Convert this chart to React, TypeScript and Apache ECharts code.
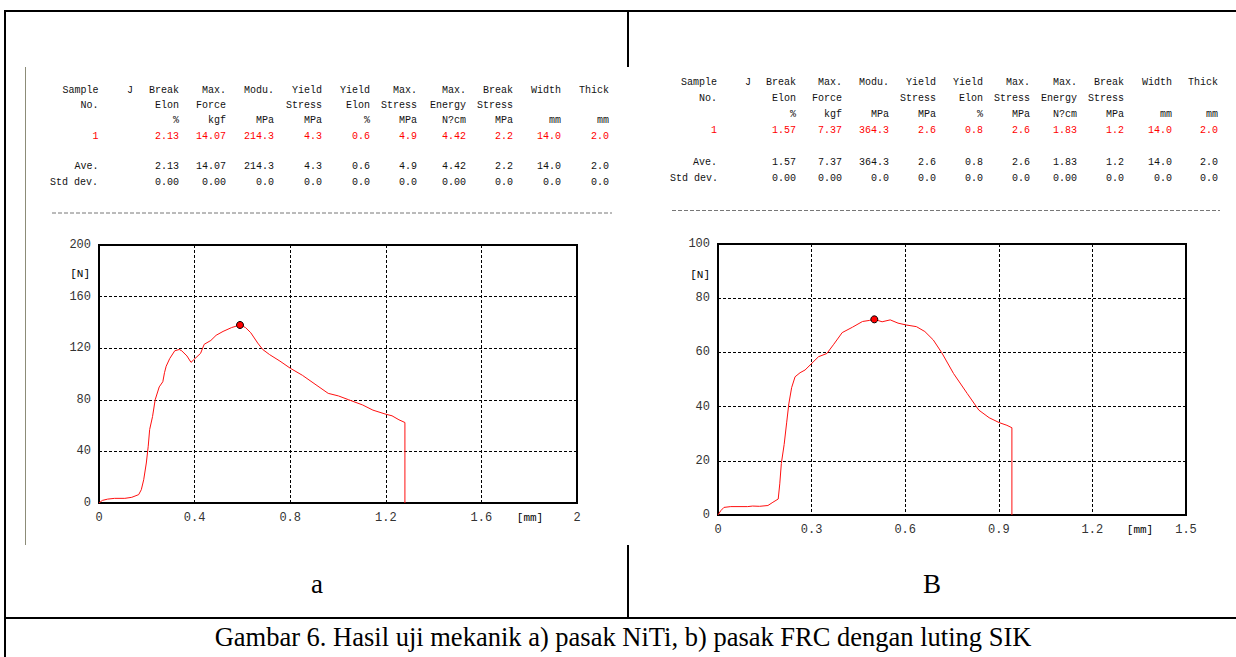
import React, { useEffect, useRef } from "react";
import * as echarts from "echarts";

// ---------- DATA ----------
const headerRow1 = ["Sample", "J", "Break", "Max.", "Modu.", "Yield", "Yield", "Max.", "Max.", "Break", "Width", "Thick"];
const headerRow2 = ["No.", "", "Elon", "Force", "", "Stress", "Elon", "Stress", "Energy", "Stress", "", ""];
const unitRow = ["", "", "%", "kgf", "MPa", "MPa", "%", "MPa", "N?cm", "MPa", "mm", "mm"];

const niTiSample = ["1", "", "2.13", "14.07", "214.3", "4.3", "0.6", "4.9", "4.42", "2.2", "14.0", "2.0"];
const niTiAve = ["Ave.", "", "2.13", "14.07", "214.3", "4.3", "0.6", "4.9", "4.42", "2.2", "14.0", "2.0"];
const niTiStd = ["", "", "0.00", "0.00", "0.0", "0.0", "0.0", "0.0", "0.00", "0.0", "0.0", "0.0"];

const frcSample = ["1", "", "1.57", "7.37", "364.3", "2.6", "0.8", "2.6", "1.83", "1.2", "14.0", "2.0"];
const frcAve = ["Ave.", "", "1.57", "7.37", "364.3", "2.6", "0.8", "2.6", "1.83", "1.2", "14.0", "2.0"];
const frcStd = ["", "", "0.00", "0.00", "0.0", "0.0", "0.0", "0.0", "0.00", "0.0", "0.0", "0.0"];

const stdLabel = "Std dev.";

// NiTi post: displacement [mm] vs force [N]
const niTiDisp = [0, 0.014, 0.036, 0.065, 0.108, 0.137, 0.166, 0.177, 0.187, 0.198, 0.206, 0.212, 0.224, 0.235, 0.252, 0.267, 0.274, 0.281, 0.296, 0.317, 0.336, 0.346, 0.368, 0.385, 0.396, 0.425, 0.44, 0.468, 0.49, 0.519, 0.555, 0.59, 0.613, 0.635, 0.664, 0.685, 0.714, 0.757, 0.8, 0.851, 0.908, 0.959, 1.002, 1.045, 1.103, 1.146, 1.197, 1.226, 1.255, 1.28, 1.28];
const niTiForce = [0, 2, 3, 3.6, 3.6, 4.4, 6.5, 10.3, 18, 31, 44, 57, 67, 80, 90, 94, 101, 106, 112, 118, 119, 118, 114, 109, 111, 116, 123, 126, 130, 133, 136, 138, 136, 132, 124, 119, 115, 110, 104.5, 99, 91.6, 85, 83, 80, 76, 72, 69, 67.6, 64.5, 62.4, 0];

// FRC post: displacement [mm] vs force [N]
const frcDisp = [0, 0.009, 0.019, 0.041, 0.095, 0.111, 0.133, 0.16, 0.176, 0.193, 0.198, 0.203, 0.212, 0.22, 0.227, 0.236, 0.247, 0.263, 0.279, 0.301, 0.322, 0.349, 0.371, 0.398, 0.431, 0.463, 0.485, 0.501, 0.526, 0.552, 0.577, 0.604, 0.636, 0.663, 0.69, 0.717, 0.755, 0.799, 0.836, 0.869, 0.901, 0.926, 0.942, 0.942];
const frcForce = [0, 1.6, 2.8, 3.1, 3.1, 3.3, 3.2, 3.5, 4.7, 5.9, 11.5, 19, 26, 34, 41, 47, 51, 52.5, 53.5, 56, 58.4, 59.6, 63, 67.3, 69.3, 71.4, 71.8, 72.2, 71.3, 72, 70.8, 70.1, 69.5, 67.7, 64.6, 59.9, 52.2, 44.8, 38.7, 35.9, 34.1, 33.1, 32.2, 0];

const leftXTicks = { min: 0, max: 2, interval: 0.4 };
const leftYTicks = { min: 0, max: 200, interval: 40 };
const rightXTicks = { min: 0, max: 1.5, interval: 0.3 };
const rightYTicks = { min: 0, max: 100, interval: 20 };

const forceUnit = "[N]";
const dispUnit = "[mm]";
const panelA = "a";
const panelB = "B";
const caption = "Gambar 6. Hasil uji mekanik a) pasak NiTi, b) pasak FRC dengan luting SIK";

// ---------- LAYOUT ----------
const W = 1236;
const H = 657;
const MONO = "Liberation Mono, DejaVu Sans Mono, monospace";
const SERIF = "Liberation Serif, Times New Roman, serif";

const leftCols = [98.5, 133, 179, 226, 274, 322, 370, 417, 466, 513, 561, 609];
const leftRows = [90, 105, 120, 136, 166, 182];
const rightCols = [717, 751, 796, 842, 889, 936, 983, 1030, 1077, 1124, 1172, 1218];
const rightRows = [82, 98, 114, 130, 162, 178];

function zip(xs: number[], ys: number[]) {
  return xs.map((x, i) => [x, ys[i]]);
}
function peak(xs: number[], ys: number[]) {
  let k = 0;
  ys.forEach((v, i) => {
    if (v > ys[k]) k = i;
  });
  return [[xs[k], ys[k]]];
}

function tableTexts(cols: number[], rows: number[], sample: string[], ave: string[], std: string[], stdX: number) {
  const out: any[] = [];
  const add = (x: number, y: number, t: string, color: string, align = "right") => {
    if (!t) return;
    out.push({
      type: "text",
      x,
      y,
      silent: true,
      style: {
        text: t,
        font: `10px ${MONO}`,
        fill: color,
        align,
        textAlign: align,
        verticalAlign: "middle",
        textVerticalAlign: "middle",
      },
    });
  };
  const rowsData = [headerRow1, headerRow2, unitRow, sample, ave, std];
  rowsData.forEach((row, r) => {
    row.forEach((t, c) => add(cols[c], rows[r], t, r === 3 ? "#ff0000" : "#111"));
  });
  add(stdX, rows[5], stdLabel, "#111", "left");
  return out;
}

function line(x1: number, y1: number, x2: number, y2: number, stroke = "#000", lineWidth = 2, dash?: number[]) {
  return {
    type: "line",
    silent: true,
    shape: { x1, y1, x2, y2 },
    style: { stroke, lineWidth, lineDash: dash },
  };
}

function label(x: number, y: number, t: string, font: string, align = "center") {
  return {
    type: "text",
    x,
    y,
    silent: true,
    style: {
      text: t,
      font,
      fill: "#000",
      align,
      textAlign: align,
      verticalAlign: "middle",
      textVerticalAlign: "middle",
    },
  };
}

function axisPair(grid: number, xt: any, yt: any) {
  const split = { show: true, lineStyle: { color: "#000", width: 1, type: [3, 2] as any } };
  const lbl = { fontFamily: MONO, fontSize: 12, color: "#333" };
  return {
    x: {
      type: "value",
      gridIndex: grid,
      min: xt.min,
      max: xt.max,
      interval: xt.interval,
      axisLine: { show: false },
      axisTick: { show: false },
      splitLine: split,
      axisLabel: { ...lbl, margin: 9 },
    },
    y: {
      type: "value",
      gridIndex: grid,
      min: yt.min,
      max: yt.max,
      interval: yt.interval,
      axisLine: { show: false },
      axisTick: { show: false },
      splitLine: split,
      axisLabel: { ...lbl, margin: 8 },
    },
  };
}

export default function App() {
  const ref = useRef<HTMLDivElement>(null);

  useEffect(() => {
    if (!ref.current) return;
    const chart = echarts.init(ref.current, undefined, { renderer: "svg" });
    const a = axisPair(0, leftXTicks, leftYTicks);
    const b = axisPair(1, rightXTicks, rightYTicks);

    const graphics: any[] = [
      // table frame
      line(4, 11, W, 11),
      line(5, 11, 5, H),
      line(628, 11, 628, 67),
      line(628, 545, 628, 618),
      line(4, 618, W, 618),
      line(25.5, 67, 25.5, 545, "#8c8c78", 1),
      // separators
      line(52, 213, 612, 213, "#777", 1, [4, 2]),
      line(672, 210.5, 1220, 210.5, "#777", 1, [4, 2]),
      ...tableTexts(leftCols, leftRows, niTiSample, niTiAve, niTiStd, 50),
      ...tableTexts(rightCols, rightRows, frcSample, frcAve, frcStd, 670),
      label(90, 274, forceUnit, `11px ${MONO}`, "right"),
      label(530, 518, dispUnit, `11px ${MONO}`, "center"),
      label(710, 275, forceUnit, `11px ${MONO}`, "right"),
      label(1140, 530, dispUnit, `11px ${MONO}`, "center"),
      label(317, 584, panelA, `27px ${SERIF}`),
      label(932, 584, panelB, `27px ${SERIF}`),
      label(623, 637, caption, `26.5px ${SERIF}`),
    ];

    chart.setOption({
      animation: false,
      backgroundColor: "#fff",
      grid: [
        { left: 99, top: 245, width: 478, height: 258, show: true, borderColor: "#000", borderWidth: 2, backgroundColor: "transparent" },
        { left: 718, top: 244, width: 468, height: 271, show: true, borderColor: "#000", borderWidth: 2, backgroundColor: "transparent" },
      ],
      xAxis: [a.x, b.x],
      yAxis: [a.y, b.y],
      series: [
        {
          type: "line",
          xAxisIndex: 0,
          yAxisIndex: 0,
          data: zip(niTiDisp, niTiForce),
          showSymbol: false,
          lineStyle: { color: "#ff1010", width: 1 },
          z: 3,
        },
        {
          type: "scatter",
          xAxisIndex: 0,
          yAxisIndex: 0,
          data: peak(niTiDisp, niTiForce),
          symbolSize: 7,
          itemStyle: { color: "#ff0000", borderColor: "#000", borderWidth: 1, opacity: 1 },
          z: 4,
        },
        {
          type: "line",
          xAxisIndex: 1,
          yAxisIndex: 1,
          data: zip(frcDisp, frcForce),
          showSymbol: false,
          lineStyle: { color: "#ff1010", width: 1 },
          z: 3,
        },
        {
          type: "scatter",
          xAxisIndex: 1,
          yAxisIndex: 1,
          data: peak(frcDisp, frcForce),
          symbolSize: 7,
          itemStyle: { color: "#ff0000", borderColor: "#000", borderWidth: 1, opacity: 1 },
          z: 4,
        },
      ],
      graphic: graphics,
    });
    return () => chart.dispose();
  }, []);

  return (
    <div
      ref={ref}
      style={{ position: "absolute", left: 0, top: 0, width: W, height: H, background: "#fff" }}
    />
  );
}
